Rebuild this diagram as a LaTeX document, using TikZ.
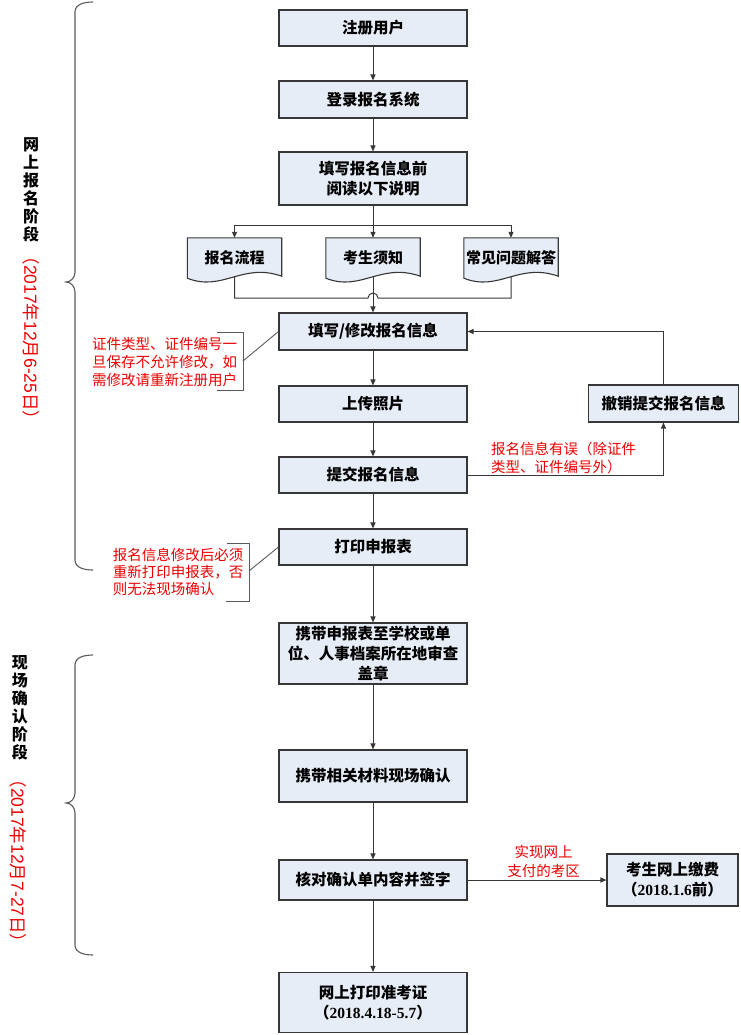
\documentclass[tikz,border=0pt]{standalone}
\usepackage{fontspec}
\setmainfont{Noto Sans CJK SC}
\newfontfamily\lser{Liberation Serif}
\newfontfamily\lsans{Liberation Sans}
\usetikzlibrary{arrows.meta,calc,backgrounds}
\definecolor{boxfill}{RGB}{231,237,247}
\definecolor{edge}{RGB}{55,55,55}
\definecolor{redtxt}{RGB}{235,0,0}
\definecolor{bracegray}{RGB}{90,90,90}
\begin{document}
\begin{tikzpicture}[x=1pt,y=-1pt,
  box/.style={draw=edge, line width=1.1pt, fill=boxfill, minimum width=188pt, align=center,
    font=\fontsize{15.5}{20}\selectfont\bfseries, inner sep=0pt},
  docnode/.style={minimum width=94pt, minimum height=39pt, inner sep=0pt,
    font=\fontsize{15}{18}\selectfont\bfseries},
  docshape/.style={draw=edge, line width=1.1pt, fill=boxfill},
  arr/.style={draw=edge, line width=1pt, -{Triangle[length=6pt,width=5pt]}},
  plain/.style={draw=edge, line width=1pt},
  callout/.style={draw=bracegray, line width=0.9pt},
  bracestyle/.style={draw=bracegray, line width=1.1pt},
  redlab/.style={text=redtxt, font=\fontsize{14.5}{18.3}\selectfont, inner sep=0pt},
  vblack/.style={align=center, inner sep=0pt, font=\fontsize{16}{18}\selectfont\bfseries},
  vred/.style={rotate=-90, inner sep=0pt, text=redtxt, font=\fontsize{17.5}{18}\selectfont}]
\useasboundingbox (0,0) rectangle (740,1035);

% main column
\node[box, minimum height=36pt] (b1) at (373,28) {注册用户};
\node[box, minimum height=37pt] (b2) at (373,99.5) {登录报名系统};
\node[box, minimum height=53pt] (b3) at (373,178.5) {填写报名信息前\\阅读以下说明};
\node[docnode] (d1) at (234.5,257.5) {报名流程};
\node[docnode] (d2) at (373,257.5) {考生须知};
\node[docnode] (d3) at (511,257.5) {常见问题解答};
\begin{scope}[on background layer]
\foreach \n in {d1,d2,d3}{
  \filldraw[docshape] ($(\n.south west)+(0,1)$) -- (\n.north west) -- (\n.north east) -- ($(\n.south east)+(0,-1)$)
    .. controls ($(\n.south west)+(55,-15)$) and ($(\n.south west)+(35,15)$) .. ($(\n.south west)+(0,1)$) -- cycle;
}
\end{scope}
\node[box, minimum height=37pt] (b4) at (373,331.5) {填写/修改报名信息};
\node[box, minimum height=36pt] (b5) at (373,404) {上传照片};
\node[box, minimum height=36pt] (b6) at (373,475) {提交报名信息};
\node[box, minimum height=36pt] (b7) at (373,547) {打印申报表};
\node[box, minimum height=61pt] (b8) at (373,653.5) {携带申报表至学校或单\\位、人事档案所在地审查\\盖章};
\node[box, minimum height=52pt] (b9) at (373,776) {携带相关材料现场确认};
\node[box, minimum height=40pt] (b10) at (373,880) {核对确认单内容并签字};
\node[box, minimum height=60pt] (b11) at (373,1002.5) {网上打印准考证\\（{\lser\bfseries 2018.4.18-5.7}）};
% right boxes
\node[box, minimum width=150pt, minimum height=37pt] (r1) at (663.5,403.5) {撤销提交报名信息};
\node[box, minimum width=131pt, minimum height=52pt] (r2) at (672.5,880) {考生网上缴费\\（{\lser\bfseries 2018.1.6}前）};

% connectors
\draw[arr] (b1) -- (b2);
\draw[arr] (b2) -- (b3);
\coordinate (br) at (373,225);
\draw[arr] (b3.south) -- (d2.north);
\draw[arr] (br) -| (d1.north);
\draw[arr] (br) -| (d3.north);
\coordinate (j) at (373,298);
\draw[plain] (d1.south) |- ($(j)+(-5,0)$) arc[start angle=180, end angle=0, radius=5pt] -| (d3.south);
\draw[arr] (d2.south) -- (b4.north);
\draw[arr] (b4) -- (b5);
\draw[arr] (b5) -- (b6);
\draw[arr] (b6) -- (b7);
\draw[arr] (b7) -- (b8);
\draw[arr] (b8) -- (b9);
\draw[arr] (b9) -- (b10);
\draw[arr] (b10) -- (b11);
\draw[arr] (b6.east) -| (r1.south);
\draw[arr] (r1.north) |- (b4.east);
\draw[arr] (b10.east) -- (r2.west);

% labels
\node[redlab, align=left, anchor=west] (l1) at (491,458) {报名信息有误（除证件\\类型、证件编号外）};
\node[redlab, align=center] (l2) at (543.5,861.5) {实现网上\\支付的考区};

% callouts
\node[redlab, align=left] (c1) at (164.5,362) {证件类型、证件编号一\\旦保存不允许修改，如\\需修改请重新注册用户};
\draw[callout] (217,332) -- (243,332) -- (243,390) -- (217,390);
\coordinate (c1p) at (243,361);
\draw[callout] (c1p) -- (b4.west);
\node[redlab, align=left, font=\fontsize{14.5}{17}\selectfont] (c2) at (178,572) {报名信息修改后必须\\重新打印申报表，否\\则无法现场确认};
\draw[callout] (227,543) -- (249,543) -- (249,601) -- (226,601);
\coordinate (c2p) at (249,571);
\draw[callout] (c2p) -- (b7.west);

% braces
\draw[bracestyle] (93,2) to[out=180,in=90] (75,12) -- (75,272) to[out=-90,in=0] (66,282)
  to[out=0,in=90] (75,292) -- (75,560) to[out=-90,in=180] (93,570);
\draw[bracestyle] (93,655) to[out=180,in=90] (75,665) -- (75,793) to[out=-90,in=0] (66,803)
  to[out=0,in=90] (75,813) -- (75,945) to[out=-90,in=180] (93,955);

% stage labels
\node[vblack] (s1) at (31,190) {网\\上\\报\\名\\阶\\段};
\node[vred] (s1d) at (31,338) {（{\lsans 2017}年{\lsans 12}月{\lsans 6-25}日）};
\node[vblack] (s2) at (20,707.5) {现\\场\\确\\认\\阶\\段};
\node[vred] (s2d) at (18,861) {（{\lsans 2017}年{\lsans 12}月{\lsans 7-27}日）};
\end{tikzpicture}
\end{document}
